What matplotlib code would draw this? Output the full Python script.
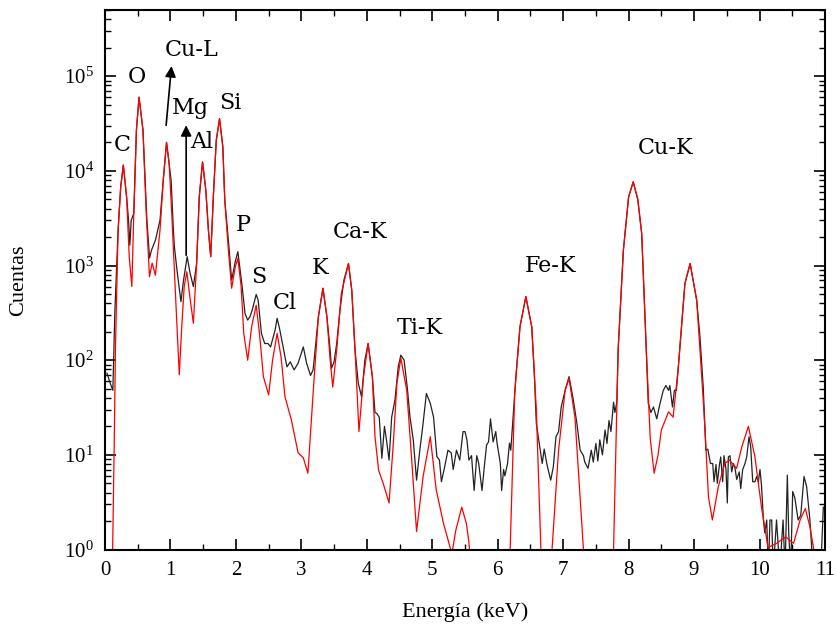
import matplotlib
matplotlib.use("Agg")
import matplotlib.pyplot as plt
from matplotlib.ticker import MultipleLocator, LogLocator, NullFormatter

plt.rcParams['font.family'] = 'Liberation Serif'
plt.rcParams['mathtext.fontset'] = 'stix'

# measured spectrum (black)
black_kev = [0.03, 0.08, 0.12, 0.15, 0.20, 0.24, 0.28, 0.33, 0.36, 0.38, 0.40, 0.44, 0.48, 0.52,
             0.58, 0.64, 0.68, 0.71, 0.74, 0.77, 0.84, 0.89, 0.94, 1.01, 1.045, 1.06, 1.10, 1.16,
             1.20, 1.255, 1.30, 1.35, 1.40, 1.44, 1.49, 1.54, 1.58, 1.615, 1.655, 1.70, 1.75,
             1.80, 1.83, 1.885, 1.935, 1.99, 2.03, 2.09, 2.14, 2.18, 2.215, 2.25, 2.31, 2.34,
             2.39, 2.44, 2.49, 2.53, 2.60, 2.63, 2.67, 2.72, 2.75, 2.78, 2.83, 2.89, 2.95, 3.03,
             3.08, 3.14, 3.18, 3.22, 3.26, 3.33, 3.39, 3.44, 3.46, 3.50, 3.54, 3.59, 3.65, 3.72,
             3.77, 3.82, 3.87, 3.92, 3.97, 4.02, 4.085, 4.125, 4.15, 4.19, 4.23, 4.27, 4.30, 4.34,
             4.38, 4.43, 4.48, 4.52, 4.57, 4.62, 4.66, 4.71, 4.76, 4.81, 4.86, 4.91, 4.97, 5.02,
             5.07, 5.11, 5.14, 5.19, 5.24, 5.29, 5.32, 5.37, 5.42, 5.47, 5.50, 5.53, 5.56, 5.60,
             5.64, 5.68, 5.71, 5.76, 5.80, 5.83, 5.86, 5.89, 5.93, 5.97, 5.99, 6.04, 6.06, 6.09,
             6.11, 6.15, 6.18, 6.20, 6.24, 6.28, 6.34, 6.43, 6.52, 6.56, 6.59, 6.65, 6.68, 6.71,
             6.75, 6.77, 6.81, 6.85, 6.89, 6.93, 6.97, 7.03, 7.09, 7.15, 7.21, 7.26, 7.31, 7.33,
             7.38, 7.43, 7.46, 7.50, 7.53, 7.56, 7.60, 7.64, 7.67, 7.70, 7.73, 7.77, 7.79, 7.82,
             7.84, 7.92, 8.00, 8.07, 8.14, 8.20, 8.27, 8.30, 8.34, 8.38, 8.43, 8.48, 8.53, 8.57,
             8.61, 8.63, 8.67, 8.70, 8.73, 8.76, 8.86, 8.94, 9.04, 9.09, 9.14, 9.18, 9.21, 9.25,
             9.285, 9.305, 9.335, 9.355, 9.386, 9.407, 9.437, 9.457, 9.488, 9.508, 9.524, 9.549,
             9.575, 9.60, 9.626, 9.651, 9.69, 9.713, 9.743, 9.778, 9.804, 9.84, 9.865, 9.896,
             9.93, 9.957, 9.982, 10.007, 10.03, 10.06, 10.08, 10.11, 10.135, 10.16, 10.186,
             10.21, 10.26, 10.31, 10.36, 10.39, 10.425, 10.446, 10.476, 10.507, 10.54, 10.59,
             10.63, 10.68, 10.72, 10.77, 10.82, 10.87, 10.935, 10.975]
black_counts = [73, 57, 48, 316, 2350, 6800, 11500, 5300, 3000, 1640, 3000, 3550, 27000, 60000,
                27000, 3000, 1200, 1450, 1640, 1850, 3000, 7950, 20000, 7950, 2350, 1580, 890, 415,
                700, 1240, 830, 600, 1050, 5300, 12400, 6300, 2350, 1240, 5300, 21000, 35600,
                18000, 4900, 1850, 700, 1100, 1400, 645, 310, 265, 288, 340, 495, 430,
                192, 150, 150, 138, 210, 277, 210, 140, 108, 85, 96, 79, 93, 138,
                93, 69, 79, 150, 288, 575, 288, 128, 82, 96, 150, 340, 700, 1050,
                550, 128, 57, 41, 100, 150, 67, 28, 27.5, 25, 9.2, 20, 14.4, 8.8,
                25, 38, 85, 113, 100, 50, 25, 14.4, 5.4, 11.2, 21.5, 44.5, 35, 25,
                9.6, 8.8, 5.2, 7.5, 11.2, 10.5, 7, 11.2, 8.8, 17.6, 17.6, 14.4, 8.8, 9.8,
                4.2, 9.8, 8.1, 4.2, 8.1, 12.7, 13.7, 24, 13.7, 17.6, 13.3, 8.1, 4.2, 7,
                6, 8.1, 13.3, 11.2, 27.5, 70, 225, 470, 225, 70, 21.5, 11.2, 8.1, 11.5,
                8.1, 7, 5.4, 7.5, 15.5, 17.6, 32, 48, 67, 40, 21.5, 11.2, 9.8, 8.4,
                7.2, 11.2, 8.4, 13.2, 8.6, 14.4, 10, 18.3, 13.2, 23, 17.6, 36, 28, 36,
                128, 1450, 5300, 7650, 5000, 2180, 128, 35, 28, 32, 24, 35, 48, 54,
                48, 54, 32, 48, 48, 85, 645, 1050, 430, 177, 52, 11.2, 11.5, 8.1,
                8.1, 5.2, 7.9, 5.0, 7.7, 9.5, 5.2, 9.8, 7, 3.1, 9.5, 9.8,
                6.6, 8.1, 7.2, 5.5, 6.6, 4.4, 7, 8.1, 9.5, 15.5, 12.2, 5.2,
                5.2, 5.9, 5.2, 7, 4.8, 2.05, 1.5, 2.05, 0.6, 2.05, 2.05,
                0.6, 2.05, 0.6, 2.05, 0.6, 6.1, 1.5, 0.6, 4.1, 3.5, 2.05,
                2.3, 5.9, 4.6, 2.05, 0.6, 0.6, 0.6, 2.8]

# fitted spectrum (red)
red_kev = [0.10, 0.11, 0.14, 0.16, 0.20, 0.24, 0.28, 0.33, 0.37, 0.41, 0.44, 0.48, 0.52, 0.58,
           0.63, 0.68, 0.72, 0.77, 0.84, 0.89, 0.94, 0.98, 1.02, 1.055, 1.09, 1.135, 1.17, 1.21,
           1.25, 1.29, 1.35, 1.40, 1.44, 1.49, 1.54, 1.58, 1.615, 1.655, 1.70, 1.75, 1.80, 1.83,
           1.885, 1.935, 1.99, 2.03, 2.08, 2.12, 2.18, 2.24, 2.31, 2.36, 2.42, 2.50, 2.56, 2.63,
           2.69, 2.75, 2.85, 2.95, 3.03, 3.10, 3.18, 3.26, 3.33, 3.39, 3.44, 3.48, 3.54, 3.61,
           3.72, 3.77, 3.82, 3.88, 3.95, 4.02, 4.085, 4.125, 4.18, 4.25, 4.34, 4.405, 4.46, 4.52,
           4.61, 4.69, 4.76, 4.86, 4.97, 5.06, 5.17, 5.27, 5.30, 5.36, 5.45, 5.52, 5.56, 5.60,
           6.00, 6.19, 6.26, 6.34, 6.43, 6.52, 6.59, 6.66, 6.75, 6.83, 6.93, 7.03, 7.09, 7.18,
           7.31, 7.55, 7.77, 7.84, 7.92, 8.00, 8.07, 8.14, 8.20, 8.27, 8.33, 8.39, 8.45, 8.50,
           8.61, 8.68, 8.76, 8.86, 8.94, 9.04, 9.14, 9.17, 9.22, 9.28, 9.37, 9.47, 9.54, 9.65,
           9.73, 9.83, 9.93, 10.03, 10.13, 10.26, 10.40, 10.52, 10.62, 10.70, 10.77, 10.83, 10.95]
red_counts = [0.3, 0.5, 12, 138, 2350, 6800, 11500, 5300, 1240, 600, 3550, 27000, 60000, 27000,
              3550, 760, 1060, 790, 2350, 7950, 20000, 12000, 3560, 1050, 316, 70, 210, 600,
              860, 507, 245, 1050, 5300, 12400, 6300, 2350, 1240, 5300, 21000, 35600, 18000, 4900,
              1450, 575, 970, 1190, 600, 192, 100, 225, 380, 192, 67, 43, 100, 192,
              108, 41, 23, 10.5, 9.3, 6.4, 45, 288, 575, 288, 100, 52, 128, 507,
              1050, 550, 128, 17.6, 67, 150, 67, 15.5, 6.9, 5.0, 3.1, 13.2, 57, 105,
              48, 8.1, 1.55, 5.9, 15.5, 4.3, 1.9, 1.07, 0.9, 1.6, 2.8, 1.9, 1.2, 0.5,
              0.05, 1.0, 45, 225, 470, 225, 30, 1.0, 0.05, 1.0, 11.2, 48, 64, 25,
              1.0, 0.05, 1.0, 128, 1450, 5300, 7650, 5000, 2180, 128, 15, 6.4, 10, 18.3,
              28.5, 25, 85, 645, 1050, 430, 38, 17, 3.6, 2.05, 4.6, 8.1, 8.8, 7.2,
              12.2, 20, 9.5, 2.8, 1.05, 1.16, 1.36, 1.16, 2.05, 2.7, 1.74, 1.0, 0.2]

# peak labels: text, keV, counts
peak_names = ['C', 'O', 'Cu-L', 'Mg', 'Si', 'Al', 'P', 'S', 'Cl', 'K', 'Ca-K', 'Ti-K', 'Fe-K', 'Cu-K']
peak_x = [0.26, 0.49, 1.33, 1.31, 1.91, 1.48, 2.11, 2.35, 2.75, 3.28, 3.90, 4.81, 6.81, 8.56]
peak_y = [18700, 98000, 188000, 46000, 52000, 20000, 2680, 755, 400, 935, 2250, 218, 985, 17400]

fig = plt.figure(figsize=(8.36, 6.27), dpi=100)
ax = fig.add_axes([0.1256, 0.1236, 0.8612, 0.8604])

ax.plot(black_kev, black_counts, color='#222222', lw=0.9)
ax.plot(red_kev, red_counts, color='red', lw=0.9)

ax.set_yscale('log')
ax.set_xlim(0, 11)
ax.set_ylim(1, 5e5)

for name, x, y in zip(peak_names, peak_x, peak_y):
    ax.text(x, y, name, ha='center', va='center', fontsize=16, family='DejaVu Serif')

# arrows for Cu-L and Mg
ax.annotate('', xy=(1.02, 137000), xytext=(0.93, 28300),
            arrowprops=dict(arrowstyle='-|>', color='black', lw=1.2, mutation_scale=16))
ax.annotate('', xy=(1.24, 32500), xytext=(1.24, 1200),
            arrowprops=dict(arrowstyle='-|>', color='black', lw=1.2, mutation_scale=16))

ax.xaxis.set_major_locator(MultipleLocator(1))
ax.xaxis.set_minor_locator(MultipleLocator(0.5))
ax.yaxis.set_major_locator(LogLocator(base=10, numticks=10))
ax.yaxis.set_minor_locator(LogLocator(base=10, subs=range(2, 10), numticks=20))
ax.yaxis.set_minor_formatter(NullFormatter())
ax.tick_params(which='both', direction='in', top=True, right=True, labelsize=15)
ax.tick_params(axis='x', which='major', pad=8)
ax.tick_params(axis='y', which='major', pad=8)
ax.tick_params(which='major', length=8, width=1.2)
ax.tick_params(which='minor', length=4.5, width=1.0)
for s in ax.spines.values():
    s.set_linewidth(1.5)

ax.set_xlabel('Energía (keV)', fontsize=16, labelpad=16)
ax.set_ylabel('Cuentas', fontsize=16, labelpad=26)

fig.savefig('out.png', dpi=100)
